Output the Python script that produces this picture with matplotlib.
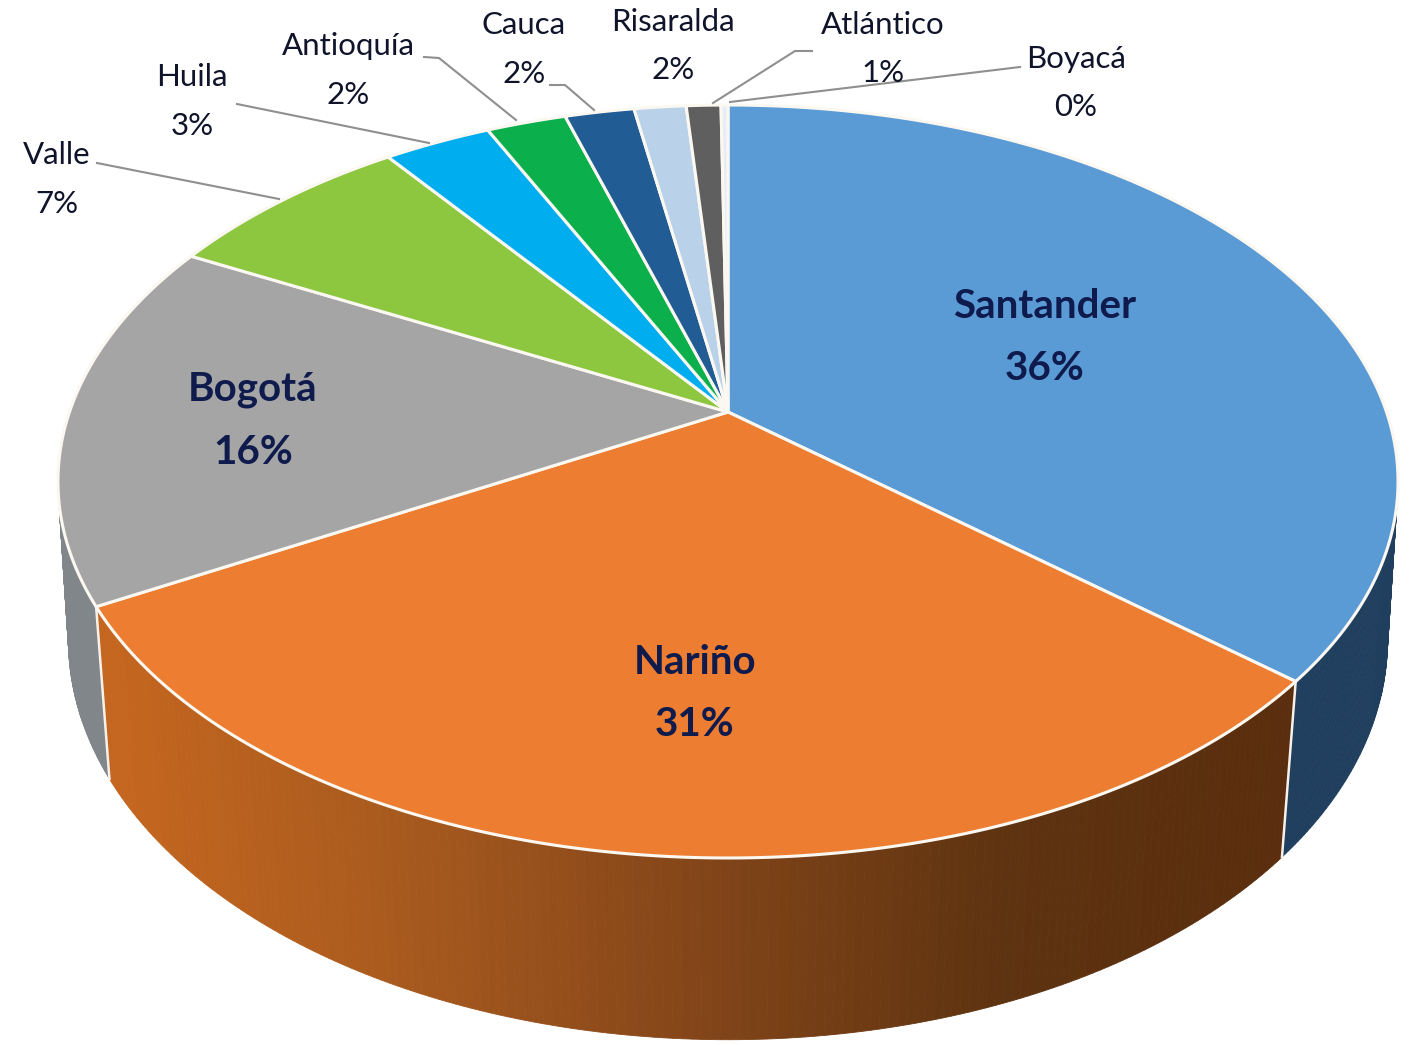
import numpy as np
import matplotlib
matplotlib.use("Agg")
import matplotlib.pyplot as plt
from matplotlib.colors import to_rgb

# ---- data ----
categories = ["Santander", "Nariño", "Bogotá", "Valle", "Huila", "Antioquía",
              "Cauca", "Risaralda", "Atlántico", "Boyacá"]
values = [36.3, 30.6, 15.8, 7.2, 3.1, 2.3, 2.0, 1.5, 1.0, 0.2]
pct_labels = ["36%", "31%", "16%", "7%", "3%", "2%", "2%", "2%", "1%", "0%"]
colors = ["#5B9BD5", "#ED7D31", "#A5A5A5", "#8DC63F", "#00AEEF", "#0BAF4B",
          "#215C94", "#B9D2E9", "#5F5F5F", "#E6EDF5"]
side_colors = {"Santander": "#203F5E", "Bogotá": "#80868A"}

# ---- layout (pixels of the output picture) ----
W, H = 1411, 1045
CX = 728
TOP = dict(R=658.5, k=0.1846, A=-287.6, B=412.0)
BOT = dict(R=650.0, k=0.169, A=-291.0, B=573.0)
label_pos = {
    "Santander": (1045, 305, 367), "Nariño": (695, 661, 722), "Bogotá": (253, 388, 450),
    "Valle": (57, 153, 202), "Huila": (192, 75, 124), "Antioquía": (348, 44, 93),
    "Cauca": (524, 23, 72), "Risaralda": (673, 20, 68), "Atlántico": (883, 23, 71),
    "Boyacá": (1076, 57, 105),
}
big = {"Santander", "Nariño", "Bogotá"}
leaders = [
    [(97, 163), (279, 199)],
    [(237, 104), (429, 143)],
    [(424, 57), (439, 58), (516, 120)],
    [(550, 85), (565, 85), (594, 110)],
    [(812, 51), (795, 51), (713, 103)],
    [(1020, 67), (730, 102)],
]
GRAD_X = [120, 400, 730, 1000, 1290]
GRAD_C = ["#C4661F", "#A85A1E", "#7F4318", "#5E3310", "#5A2E0E"]


def project(theta, p):
    """Perspective projection of a point on the pie rim, theta clockwise from 12 o'clock."""
    c, s = np.cos(theta), np.sin(theta)
    d = 1 + p["k"] * c
    return CX + p["R"] * s / d, (p["A"] * c + p["B"]) / d


def gradient(x):
    rgb = np.array([to_rgb(c) for c in GRAD_C])
    return tuple(np.interp(x, GRAD_X, rgb[:, i]) for i in range(3))


plt.rcParams["font.family"] = ["Lato", "DejaVu Sans"]
fig = plt.figure(figsize=(W / 100, H / 100), dpi=100, facecolor="white")
ax = fig.add_axes([0, 0, 1, 1])
ax.set_xlim(0, W)
ax.set_ylim(H, 0)
ax.axis("off")

edges = np.concatenate([[0], np.cumsum(values)]) / np.sum(values) * 2 * np.pi

# side walls
for i, name in enumerate(categories):
    a0, a1 = edges[i], edges[i + 1]
    lo, hi = max(a0, np.pi * 0.3), min(a1, np.pi * 1.7)
    if hi <= lo:
        continue
    ts = np.linspace(lo, hi, 160)
    for t0, t1 in zip(ts[:-1], ts[1:]):
        x0, y0 = project(t0, TOP)
        x1, y1 = project(t1, TOP)
        x2, y2 = project(t1, BOT)
        x3, y3 = project(t0, BOT)
        col = side_colors.get(name) or gradient((x0 + x1 + x2 + x3) / 4)
        ax.fill([x0, x1, x2, x3], [y0, y1, y2, y3], color=col, lw=0.6, zorder=2)

# white seams on the wall
for a in edges[1:3]:
    x0, y0 = project(a, TOP)
    x1, y1 = project(a, BOT)
    ax.plot([x0, x1], [y0, y1], color="#F7F1EA", lw=1.8, zorder=3)

# top face
for i, name in enumerate(categories):
    ts = np.linspace(edges[i], edges[i + 1], 200)
    xs, ys = project(ts, TOP)
    ax.fill(np.r_[CX, xs], np.r_[TOP["B"], ys], facecolor=colors[i],
            edgecolor="#FBF8F2", lw=2.2, joinstyle="round", zorder=4)

# leader lines
for pts in leaders:
    xs, ys = zip(*pts)
    ax.plot(xs, ys, color="#8F8F8F", lw=1.5, zorder=5)

# labels
for name, pct in zip(categories, pct_labels):
    x, y0, y1 = label_pos[name]
    if name in big:
        kw = dict(fontsize=29, fontweight="bold", color="#0E1B4C")
    else:
        kw = dict(fontsize=22.5, color="#10142A")
    ax.text(x, y0 + 2, name, ha="center", va="center", zorder=6, **kw)
    ax.text(x, y1 + 2, pct, ha="center", va="center", zorder=6, **kw)

fig.savefig("out.png", dpi=100, facecolor="white")
